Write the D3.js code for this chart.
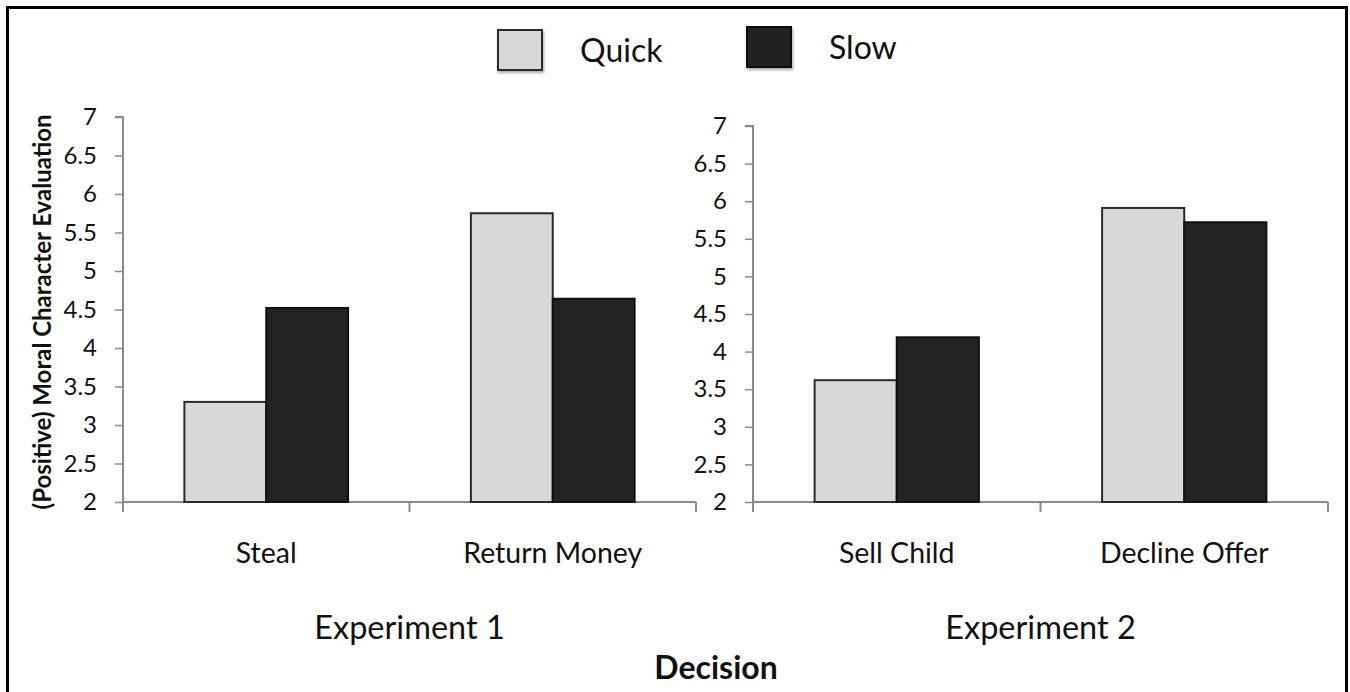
<!DOCTYPE html>
<html>
<head>
<meta charset="utf-8">
<script src="https://cdn.jsdelivr.net/npm/d3@7"></script>
<style>
  html, body { margin: 0; padding: 0; background: #fff; }
  svg { display: block; }
  text { font-family: Lato, "Open Sans", sans-serif; fill: #111; }
</style>
</head>
<body>
<svg id="chart" width="1350" height="692"></svg>
<script>
// ---- Data ----
const series = ["Quick", "Slow"];
const exp1Categories = ["Steal", "Return Money"];
const exp1Quick = [3.30, 5.75];
const exp1Slow = [4.52, 4.64];
const exp2Categories = ["Sell Child", "Decline Offer"];
const exp2Quick = [3.62, 5.91];
const exp2Slow = [4.19, 5.72];
const yTicks = [2, 2.5, 3, 3.5, 4, 4.5, 5, 5.5, 6, 6.5, 7];
const panelTitles = ["Experiment 1", "Experiment 2"];
const yTitle = "(Positive) Moral Character Evaluation";
const xTitle = "Decision";

const colors = { Quick: "#d8d8d8", Slow: "#232323" };
const strokes = { Quick: "#2a2a2a", Slow: "#111" };

const svg = d3.select("#chart");

// outer frame
svg.append("rect").attr("x", 7.5).attr("y", 7.5).attr("width", 1339).attr("height", 700)
  .attr("fill", "none").attr("stroke", "#000").attr("stroke-width", 3);

// shadow filter for legend
const defs = svg.append("defs");
const f = defs.append("filter").attr("id", "sh").attr("x", "-20%").attr("y", "-20%").attr("width", "150%").attr("height", "150%");
f.append("feDropShadow").attr("dx", 1).attr("dy", 2).attr("stdDeviation", 1.5).attr("flood-color", "#000").attr("flood-opacity", 0.35);

function panel(cats, quick, slow, cfg) {
  const y = d3.scaleLinear().domain([2, 7]).range([cfg.y0, cfg.y1]);
  const x0 = d3.scaleBand().domain(cats).range([cfg.xl, cfg.xr]).paddingInner(0).paddingOuter(0);
  const x1 = d3.scaleBand().domain(series).range([0, x0.bandwidth()]).paddingInner(0).paddingOuter(0.75);
  const g = svg.append("g");

  // y axis
  const ya = g.append("g").attr("transform", `translate(${cfg.xl},0)`)
    .call(d3.axisLeft(y).tickValues(yTicks).tickSize(8).tickPadding(18).tickFormat(d3.format("")));
  ya.select(".domain").attr("stroke", "#8a8a8a").attr("stroke-width", 2)
    .attr("d", `M-8,${cfg.y1}H0V${cfg.y0 + 10}`);
  ya.selectAll(".tick line").attr("stroke", "#8a8a8a").attr("stroke-width", 1.5);
  ya.selectAll(".tick text").attr("font-size", 24).attr("fill", "#111").style("font-family", "Lato, sans-serif");

  // x axis
  const xa = g.append("g").attr("transform", `translate(0,${cfg.y0})`)
    .call(d3.axisBottom(x0).tickSize(0).tickFormat(""));
  xa.select(".domain").attr("stroke", "#8a8a8a").attr("stroke-width", 2)
    .attr("d", `M${cfg.xl},0H${cfg.xr}`);
  // separator ticks at band edges
  const edges = cats.map(c => x0(c)).concat([cfg.xr]);
  g.selectAll(".edgetick").data(edges).join("line")
    .attr("x1", d => d).attr("x2", d => d).attr("y1", cfg.y0).attr("y2", cfg.y0 + 10)
    .attr("stroke", "#8a8a8a").attr("stroke-width", 2);

  // bars
  const rows = cats.map((c, i) => ({ cat: c, vals: [{ s: "Quick", v: quick[i] }, { s: "Slow", v: slow[i] }] }));
  const gg = g.selectAll(".grp").data(rows).join("g").attr("transform", d => `translate(${x0(d.cat)},0)`);
  gg.selectAll("rect").data(d => d.vals).join("rect")
    .attr("x", d => x1(d.s)).attr("width", x1.bandwidth())
    .attr("y", d => y(d.v)).attr("height", d => y(2) - y(d.v))
    .attr("fill", d => colors[d.s]).attr("stroke", d => strokes[d.s]).attr("stroke-width", 2);

  // category labels
  g.selectAll(".cat").data(cats).join("text")
    .attr("x", d => x0(d) + x0.bandwidth() / 2).attr("y", 563)
    .attr("text-anchor", "middle").attr("font-size", 28.5).text(d => d);

  // panel title
  g.append("text").attr("x", (cfg.xl + cfg.xr) / 2).attr("y", 639)
    .attr("text-anchor", "middle").attr("font-size", 32.5).text(cfg.title);
}

panel(exp1Categories, exp1Quick, exp1Slow, { xl: 123, xr: 696, y0: 502, y1: 117, title: panelTitles[0] });
panel(exp2Categories, exp2Quick, exp2Slow, { xl: 753, xr: 1328, y0: 502, y1: 126, title: panelTitles[1] });

// y title
svg.append("text").attr("transform", "translate(51,312) rotate(-90)")
  .attr("text-anchor", "middle").attr("font-size", 24).attr("font-weight", "bold").text(yTitle);

// x title
svg.append("text").attr("x", 716).attr("y", 679).attr("text-anchor", "middle")
  .attr("font-size", 32).attr("font-weight", "bold").text(xTitle);

// legend
const legendX = [498, 747];
const legendY = [30, 27];
const leg = svg.selectAll(".leg").data(series).join("g");
leg.append("rect").attr("x", (d, i) => legendX[i]).attr("y", (d, i) => legendY[i])
  .attr("width", 44).attr("height", 40)
  .attr("fill", d => colors[d]).attr("stroke", d => strokes[d]).attr("stroke-width", 2)
  .attr("filter", "url(#sh)");
leg.append("text").attr("x", (d, i) => legendX[i] + 82).attr("y", (d, i) => legendY[i] + 32)
  .attr("font-size", 32).text(d => d);
</script>
</body>
</html>
